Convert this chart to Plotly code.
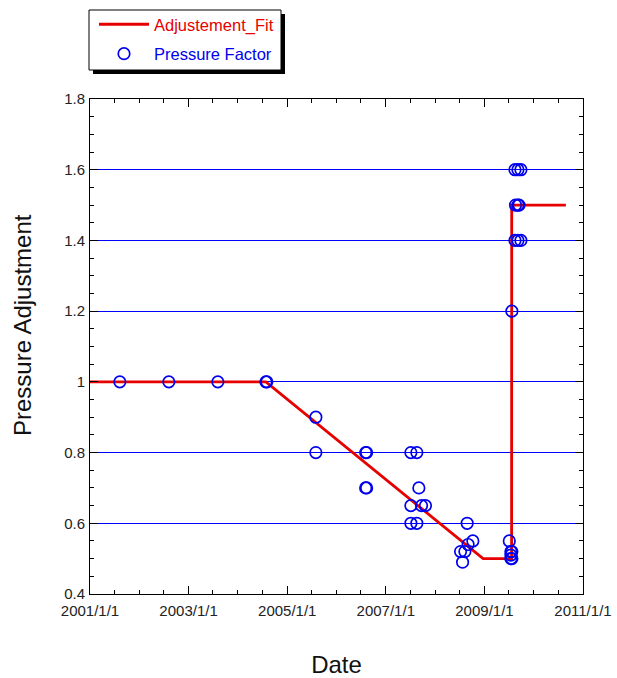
import plotly.graph_objects as go

# Fitted adjustment curve
fit_dates = ["2001-01-01", "2004-07-27", "2008-12-22", "2009-07-21", "2009-07-22", "2010-08-27"]
fit_values = [1.0, 1.0, 0.5, 0.5, 1.5, 1.5]

# Observed pressure factors
obs_dates = [
    "2001-08-10", "2002-08-08", "2003-08-06", "2004-07-27", "2004-08-03",
    "2005-08-01", "2005-08-01",
    "2006-08-05", "2006-08-12", "2006-08-05", "2006-08-12",
    "2007-07-06", "2007-07-06", "2007-07-06", "2007-08-19", "2007-08-19",
    "2007-09-03", "2007-09-23", "2007-10-22",
    "2008-07-08", "2008-07-23", "2008-08-09", "2008-08-26", "2008-09-02", "2008-10-07",
    "2009-07-04", "2009-07-16", "2009-07-16", "2009-07-16", "2009-07-23", "2009-07-23",
    "2009-07-23",
    "2009-08-15", "2009-09-06", "2009-09-28",
    "2009-08-19", "2009-09-06", "2009-09-14",
    "2009-08-15", "2009-09-06", "2009-09-28",
]
obs_values = [
    1.0, 1.0, 1.0, 1.0, 1.0,
    0.9, 0.8,
    0.8, 0.8, 0.7, 0.7,
    0.8, 0.65, 0.6, 0.8, 0.6,
    0.7, 0.65, 0.65,
    0.52, 0.49, 0.52, 0.6, 0.54, 0.55,
    0.55, 0.52, 0.51, 0.50, 0.50, 0.52,
    1.2,
    1.4, 1.4, 1.4,
    1.5, 1.5, 1.5,
    1.6, 1.6, 1.6,
]

x_tickvals = ["2001-01-01", "2003-01-01", "2005-01-01", "2007-01-01", "2009-01-01", "2011-01-01"]
x_ticktext = ["2001/1/1", "2003/1/1", "2005/1/1", "2007/1/1", "2009/1/1", "2011/1/1"]

FONT = "Liberation Sans, Arial, Helvetica, sans-serif"
W, H = 617, 678
L, R, T, B = 90, 34, 99, 84
PW, PH = W - L - R, H - T - B
RED = "#e60000"
BLUE = "#0000ee"


def px_x(p):
    return (p - L) / PW


def px_y(p):
    return (H - B - p) / PH


fig = go.Figure()
fig.add_trace(go.Scatter(
    x=fit_dates, y=fit_values, mode="lines",
    name=f"<span style='color:{RED}'>Adjustement_Fit</span>",
    legendgroup="a",
    line=dict(color=RED, width=2.8),
))
fig.add_trace(go.Scatter(
    x=obs_dates, y=obs_values, mode="markers",
    name=f"<span style='color:{BLUE}'>Pressure Factor</span>",
    legendgroup="b",
    marker=dict(symbol="circle-open", size=11.5, color=BLUE, line=dict(width=1.7, color=BLUE)),
))

# legend frame with drop shadow
fig.add_shape(type="rect", xref="paper", yref="paper",
              x0=px_x(93), x1=px_x(285), y0=px_y(74), y1=px_y(14),
              fillcolor="black", line=dict(width=0), layer="above")
fig.add_shape(type="rect", xref="paper", yref="paper",
              x0=px_x(89), x1=px_x(281), y0=px_y(70), y1=px_y(10),
              fillcolor="white", line=dict(width=1, color="black"), layer="above")

# y-axis title (placed slightly above the plot centre, as in the original)
fig.add_annotation(
    text="Pressure Adjustment", textangle=-90, showarrow=False,
    xref="paper", yref="paper", x=px_x(22), y=px_y(325),
    xanchor="center", yanchor="middle",
    font=dict(size=24, color="#111", family=FONT),
)

fig.update_layout(
    width=W, height=H,
    margin=dict(l=L, r=R, t=T, b=B, autoexpand=False),
    paper_bgcolor="white", plot_bgcolor="white",
    font=dict(family=FONT, size=15, color="#222"),
    showlegend=True,
    legend=dict(
        x=px_x(94), y=px_y(7), xanchor="left", yanchor="top",
        bgcolor="rgba(0,0,0,0)", borderwidth=0,
        font=dict(size=16.5, family=FONT),
        itemwidth=50, tracegroupgap=5, traceorder="grouped",
    ),
    xaxis=dict(
        type="date", range=["2001-01-01", "2011-01-01"],
        tickmode="array", tickvals=x_tickvals, ticktext=x_ticktext,
        ticks="inside", ticklen=8, tickcolor="black", tickwidth=1,
        showline=True, linecolor="black", linewidth=1, mirror="ticks",
        showgrid=False, zeroline=False,
        minor=dict(dtick="M6", tick0="2001-01-01", ticks="inside", ticklen=4, tickcolor="black", showgrid=False),
        tickfont=dict(size=15), ticklabelstandoff=3,
        title=dict(text="Date", font=dict(size=24, color="#111"), standoff=38),
    ),
    yaxis=dict(
        range=[0.4, 1.8], dtick=0.2, tick0=0.4,
        ticks="inside", ticklen=8, tickcolor="black", tickwidth=1,
        showline=True, linecolor="black", linewidth=1, mirror="ticks",
        showgrid=True, gridcolor="#0000ff", gridwidth=1, zeroline=False,
        minor=dict(dtick=0.05, ticks="inside", ticklen=4, tickcolor="black", showgrid=False),
        tickfont=dict(size=15), ticklabelstandoff=1,
    ),
)

fig.write_html(
    "out.html",
    config={"displayModeBar": False},
    post_script="document.body.style.margin='0';document.body.style.padding='0';",
)
